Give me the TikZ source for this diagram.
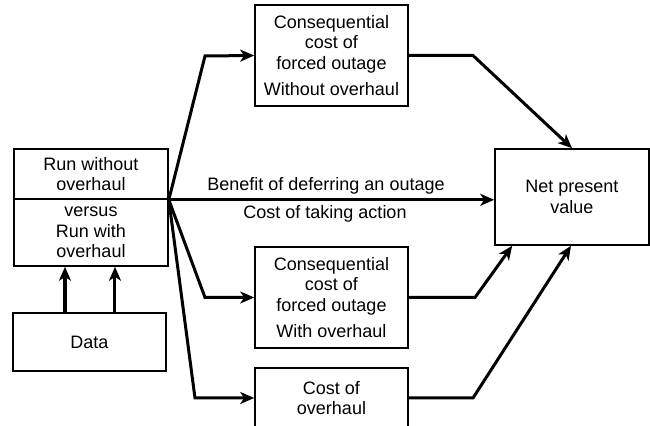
\documentclass[tikz,border=0pt]{standalone}
\usepackage{fontspec}
\setmainfont{Liberation Sans}
\usetikzlibrary{arrows.meta}
\begin{document}
\begin{tikzpicture}[x=0.5pt,y=-0.5pt,
  box/.style={draw,line width=0.8pt,inner sep=0pt,align=center,font=\fontsize{9}{10.25}\selectfont},
  lbl/.style={inner sep=0pt,font=\fontsize{9}{10.25}\selectfont},
  conn/.style={line width=1.5pt,-{Stealth[length=7pt,width=6pt,inset=2pt]}}]
\useasboundingbox (0,0) rectangle (650,426);
\node[box,minimum width=77pt,minimum height=25pt] (runa) at (91,174) {Run without\\overhaul};
\node[box,minimum width=77pt,minimum height=33.5pt] (runb) at (91,232.5) {versus\\Run with\\overhaul};
\node[box,minimum width=76.5pt,minimum height=29pt] (data) at (89.5,342) {Data};
\node[box,minimum width=76.5pt,minimum height=50.5pt] (cwo) at (331.5,55.5) {Consequential\\cost of\\forced outage\\[2.75pt]Without overhaul};
\node[box,minimum width=76.5pt,minimum height=50.5pt] (cwi) at (331.5,297.5) {Consequential\\cost of\\forced outage\\[2.75pt]With overhaul};
\node[box,minimum width=76.5pt,minimum height=30pt] (cov) at (331.5,398) {Cost of\\overhaul};
\node[box,minimum width=77pt,minimum height=48pt] (npv) at (572,197) {Net present\\value};
\node[lbl] (benefit) at (326,186) {Benefit of deferring an outage};
\node[lbl] (costact) at (325,214) {Cost of taking action};
% fan from left box
\draw[conn] (runa.south east) -- (205,56) -- (cwo.west);
\draw[conn] (runa.south east) -- (runa.south east -| npv.west);
\draw[conn] (runa.south east) -- (205,297.5) -- (cwi.west);
\draw[conn] (runa.south east) -- (195,398) -- (cov.west);
% into NPV
\draw[conn] (cwo.east) -- (473,55.5) -- (npv.north);
\draw[conn] (cwi.east) -- (475,297.5) -- ([xshift=9pt]npv.south west);
\draw[conn] (cov.east) -- (473,398) -- ([xshift=-0.5pt]npv.south);
% data arrows
\draw[conn] ([xshift=-12.25pt]data.north) -- ([xshift=-12.25pt]data.north |- runb.south);
\draw[conn] ([xshift=12.75pt]data.north) -- ([xshift=12.75pt]data.north |- runb.south);
\end{tikzpicture}
\end{document}
